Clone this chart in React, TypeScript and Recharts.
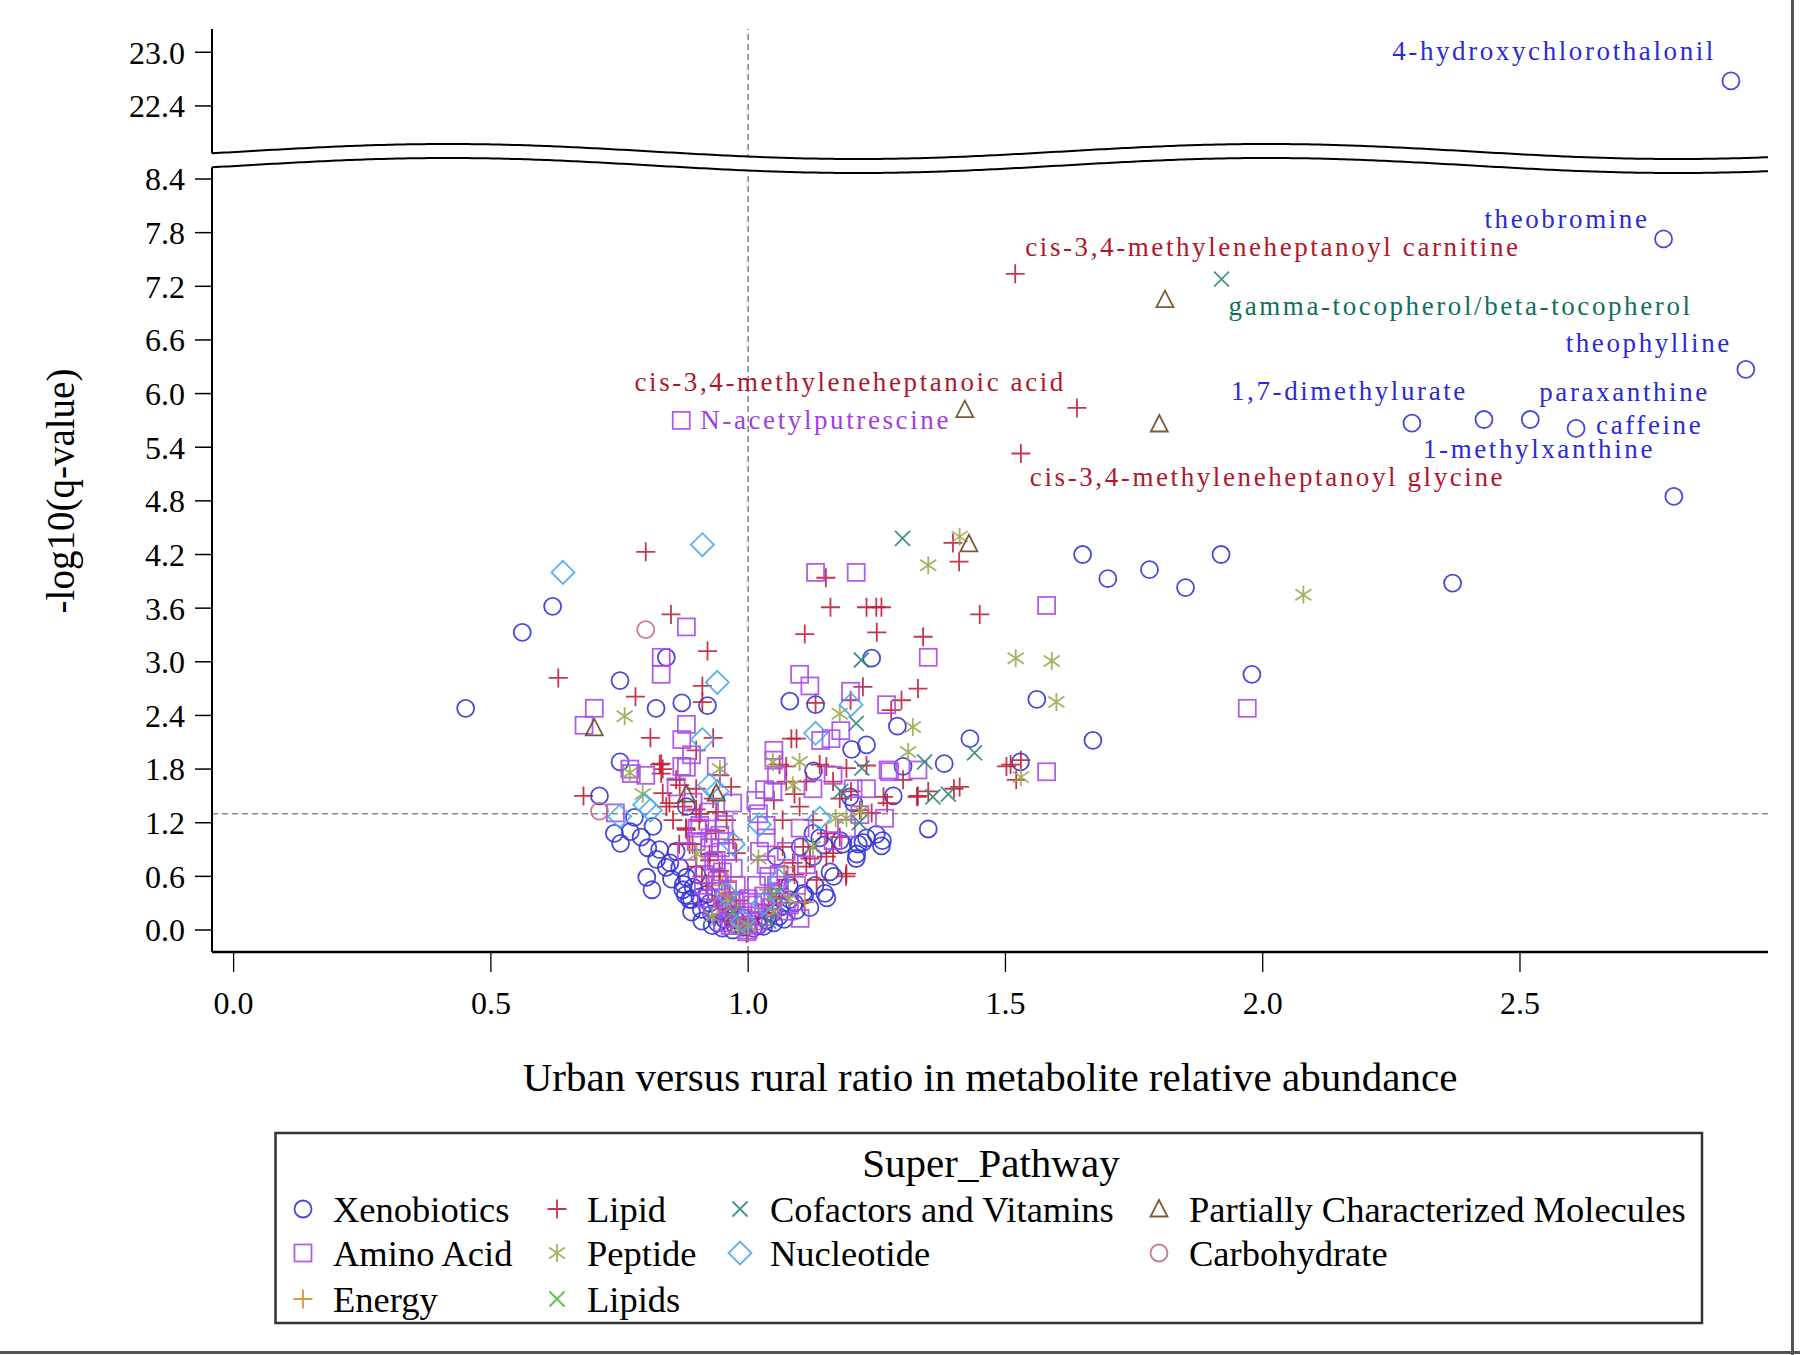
import React from "react";
import { ReferenceLine, Scatter, ScatterChart, XAxis, YAxis } from "recharts";

type Pt = [number, number];

const xTicks = [0, 0.5, 1, 1.5, 2, 2.5];
const yTicksLow = [0, 0.6, 1.2, 1.8, 2.4, 3.0, 3.6, 4.2, 4.8, 5.4, 6.0, 6.6, 7.2, 7.8, 8.4];
const yTicksHigh = [22.4, 23.0];
const xDomain = [-0.042, 2.982];
const yDomainLow = [-0.246, 8.635];
const yDomainHigh = [21.796, 23.26];
const breakAt = 15;
const qCutoff = 1.3; // -log10(0.05)
const ratioRef = 1.0;

const xenobiotics: Pt[] = [
  [2.91, 22.68],
  [2.779, 7.73], [2.939, 6.27], [2.29, 5.67], [2.43, 5.71], [2.52, 5.71], [2.609, 5.61], [2.799, 4.85],
  [1.65, 4.2], [1.699, 3.93], [1.78, 4.03], [1.85, 3.83], [1.919, 4.2], [2.369, 3.88], [1.979, 2.86],
  [1.561, 2.58], [1.67, 2.12], [1.529, 1.88], [1.431, 2.14], [1.381, 1.86], [1.35, 1.13],
  [1.24, 3.04], [1.081, 2.56], [1.131, 2.52], [1.29, 2.28], [1.23, 2.07], [1.201, 2.02], [1.127, 1.78],
  [1.301, 1.83], [1.282, 1.5],
  [0.62, 3.62], [0.561, 3.33], [0.451, 2.48], [0.841, 3.05], [0.751, 2.79], [0.821, 2.48], [0.871, 2.54],
  [0.921, 2.51], [0.751, 1.88], [0.711, 1.5], [0.88, 1.38],
  [0.74, 1.08], [0.771, 1.1], [0.779, 1.26], [0.752, 0.97], [0.792, 1.04], [0.805, 0.92], [0.828, 0.9],
  [0.822, 0.79], [0.848, 0.75], [0.841, 0.7], [0.803, 0.59], [0.813, 0.45], [0.851, 0.57], [0.874, 0.51],
  [0.878, 0.39], [0.89, 0.34], [0.909, 0.23], [0.929, 0.18], [0.954, 0.12], [0.974, 0.06], [0.815, 1.16],
  [0.867, 0.7], [0.88, 0.59], [0.893, 0.48], [0.906, 0.37], [0.925, 0.3], [0.945, 0.22], [0.964, 0.17],
  [0.977, 0.11], [0.873, 0.45], [0.886, 0.34], [0.94, 0.08], [0.99, 0.03], [0.96, 0.28], [0.92, 0.4],
  [0.9, 0.62], [0.86, 0.88],
  [1.035, 0.11], [1.048, 0.19], [1.064, 0.26], [1.081, 0.34], [1.094, 0.22], [1.107, 0.41], [1.126, 0.82],
  [1.149, 0.41], [1.159, 0.65], [1.179, 1.0], [1.211, 0.85], [1.214, 0.96], [1.23, 1.03], [1.249, 1.07],
  [1.259, 0.94], [1.055, 0.82], [1.101, 0.93], [1.126, 1.08], [1.139, 1.03], [1.198, 1.49], [1.205, 1.42],
  [1.261, 1.0], [1.223, 0.98], [1.184, 0.96], [1.21, 0.8], [1.166, 0.6], [1.153, 0.36], [1.147, 0.95],
  [1.11, 0.39], [1.02, 0.05], [1.06, 0.15], [1.08, 0.5], [1.12, 0.25], [1.01, 0.02],
  [0.93, 0.05], [0.95, 0.02], [0.97, 0.0], [1.03, 0.04], [1.05, 0.08], [1.07, 0.12], [0.91, 0.1],
  [0.89, 0.2], [1.09, 0.3], [1.13, 0.5],
];

const lipid: Pt[] = [
  [1.519, 7.34], [1.639, 5.84], [1.53, 5.33],
  [0.801, 4.23], [1.398, 4.33], [1.41, 4.12], [1.151, 3.94], [1.16, 3.61], [1.23, 3.61], [1.249, 3.61],
  [1.259, 3.61], [1.45, 3.53], [1.11, 3.31], [1.25, 3.33], [1.34, 3.28], [1.223, 2.72], [1.33, 2.7],
  [1.131, 2.54], [1.199, 2.57], [1.298, 2.57], [1.278, 2.46],
  [0.85, 3.53], [0.921, 3.12], [0.631, 2.82], [0.911, 2.73], [0.781, 2.61], [0.911, 2.55], [0.81, 2.15],
  [0.932, 2.15], [0.899, 2.01], [0.831, 1.86], [0.831, 1.75], [0.86, 1.68], [0.68, 1.5], [0.834, 1.53],
  [0.847, 1.42], [0.967, 1.6], [0.899, 1.35], [0.938, 1.32],
  [1.094, 2.14], [1.084, 2.14], [1.074, 1.83], [1.152, 1.83], [1.502, 1.83], [1.53, 1.9], [1.51, 1.85],
  [1.521, 1.68], [1.301, 1.68], [1.411, 1.6], [1.33, 1.5], [1.27, 1.42],
  [0.828, 1.85], [0.834, 1.8], [0.867, 1.62], [0.899, 1.58], [0.932, 1.47], [0.945, 1.73], [0.841, 1.38],
  [0.854, 1.23], [0.88, 1.12], [0.873, 1.38], [0.906, 1.3], [0.919, 1.08], [0.886, 0.96], [0.925, 0.78],
  [0.945, 0.6], [0.964, 0.41], [0.977, 0.26], [0.99, 0.07], [0.997, -0.04], [0.958, 1.23], [0.971, 1.01],
  [0.977, 0.86], [0.899, 0.71], [0.919, 0.52], [0.938, 0.34], [0.879, 1.14], [0.905, 1.22], [0.937, 1.11],
  [0.892, 0.96], [0.925, 0.85], [0.944, 0.66], [0.983, 0.33], [0.866, 0.96],
  [1.061, 1.85], [1.074, 1.66], [1.113, 1.66], [1.139, 1.85], [1.165, 1.66], [1.178, 1.47], [1.191, 1.81],
  [1.23, 1.84], [1.217, 1.34], [1.263, 1.49], [1.328, 1.49], [1.35, 1.55], [1.4, 1.58], [1.067, 1.23],
  [1.1, 1.38], [1.126, 1.23], [1.152, 1.08], [1.165, 0.86], [1.191, 0.63], [1.178, 1.04], [1.107, 0.93],
  [1.087, 0.75], [1.074, 0.56], [1.055, 0.37], [1.035, 0.19], [1.016, 0.06], [1.133, 0.56], [1.113, 0.71],
  [1.067, 0.93], [1.152, 0.82], [1.19, 0.6], [1.05, 1.45], [1.09, 1.52], [1.2, 1.55], [1.24, 1.31],
  [0.96, 0.1], [1.0, 0.12], [1.02, 0.2], [1.04, 0.28], [0.95, 0.3], [0.93, 0.45], [1.06, 0.46],
  [1.09, 0.62], [0.91, 0.6], [1.12, 0.8],
];

const aminoAcid: Pt[] = [
  [0.87, 5.7],
  [1.131, 4.0], [1.21, 4.0], [1.58, 3.63], [1.35, 3.05], [1.1, 2.86], [1.12, 2.73], [1.199, 2.67],
  [1.269, 2.52], [1.141, 2.12], [1.161, 2.14], [1.18, 2.23], [1.05, 2.01], [1.05, 1.9], [1.272, 1.79],
  [1.33, 1.79], [1.58, 1.77], [1.97, 2.48], [1.032, 1.57],
  [0.88, 3.39], [0.831, 3.05], [0.831, 2.86], [0.701, 2.48], [0.681, 2.29], [0.88, 2.3], [0.871, 2.13],
  [0.89, 1.96], [0.77, 1.8], [0.801, 1.73], [0.871, 1.83], [0.938, 1.83], [0.742, 1.31], [0.97, 1.42],
  [0.901, 1.14], [0.926, 1.03], [0.946, 0.92], [0.933, 0.77], [0.914, 0.62], [0.94, 0.55], [0.96, 0.44],
  [0.973, 0.33], [0.953, 1.18], [0.773, 1.75], [0.88, 1.82], [0.86, 1.6], [0.893, 1.43], [0.906, 1.17],
  [0.925, 1.32], [0.945, 1.06], [0.958, 0.88], [0.971, 0.69], [0.977, 0.5], [0.984, 0.32], [0.99, 0.13],
  [0.925, 0.92], [0.938, 0.78], [0.899, 0.99], [0.88, 0.88], [0.913, 0.5], [0.938, 0.43], [0.958, 0.28],
  [0.971, 0.13], [0.997, -0.02], [0.985, 0.05], [0.96, 0.18],
  [1.035, 1.17], [1.048, 1.55], [1.055, 1.73], [1.035, 1.03], [1.022, 0.88], [1.035, 0.73], [1.016, 0.5],
  [1.009, 0.28], [1.055, 0.5], [1.074, 0.88], [1.101, 1.14], [1.126, 1.58], [1.165, 1.73], [1.204, 1.58],
  [1.23, 1.58], [1.275, 1.77], [1.265, 1.25], [1.101, 0.13], [1.074, 0.21], [1.048, 0.32], [1.094, 0.5],
  [1.113, 0.73], [1.165, 1.0], [1.191, 1.14], [1.217, 1.29], [1.02, 0.1], [1.03, 0.38], [1.06, 0.62],
  [1.02, 1.3], [1.015, 1.45], [1.0, 0.0],
  [0.95, 0.08], [0.965, 0.05], [1.01, 0.06], [1.03, 0.15], [1.045, 0.25], [0.93, 0.25], [0.92, 0.35],
  [1.06, 0.4], [1.08, 0.28], [0.99, 0.2], [1.0, 0.35], [0.95, 0.65], [1.04, 0.6],
];

const energy: Pt[] = [[0.96, 0.55], [1.07, 0.7], [1.11, 0.31], [1.04, 0.45], [0.95, 0.5]];

const peptide: Pt[] = [
  [1.411, 4.4], [1.35, 4.08], [2.079, 3.75], [1.52, 3.04], [1.59, 3.01], [1.599, 2.55], [1.178, 2.42],
  [1.32, 2.27], [1.311, 1.99], [1.1, 1.88], [1.53, 1.71], [0.76, 2.39], [0.77, 1.76], [0.795, 1.52],
  [0.945, 1.8], [1.048, 1.88], [1.087, 1.62], [1.191, 1.25], [0.93, 0.15], [1.126, 0.93], [1.02, 0.8],
  [1.08, 0.35], [0.98, 0.02], [1.22, 1.33], [1.17, 1.25], [0.9, 0.85], [1.0, 0.05], [0.96, 0.35], [1.05, 0.2],
];

const lipids: Pt[] = [[1.05, 0.4], [0.97, 0.2]];

const cofactors: Pt[] = [
  [1.92, 7.28], [1.3, 4.38], [1.22, 3.02], [1.21, 2.31], [1.221, 1.81], [1.343, 1.88], [1.44, 1.98],
  [1.359, 1.49], [1.389, 1.52], [1.04, 0.1], [1.216, 1.2], [1.18, 1.55],
];

const nucleotide: Pt[] = [
  [0.64, 4.0], [0.911, 4.31], [0.94, 2.77], [0.911, 2.13], [1.2, 2.52], [1.131, 2.2], [0.799, 1.4],
  [0.75, 1.27], [0.81, 1.34], [0.925, 1.62], [1.022, 1.18], [1.139, 1.25], [0.971, 0.96], [0.958, 0.4],
  [0.94, 1.55], [1.06, 0.55], [0.99, 0.1], [1.03, 0.3],
];

const partial: Pt[] = [
  [1.81, 7.05], [1.421, 5.82], [1.799, 5.66], [1.429, 4.32], [0.701, 2.26], [0.88, 1.52], [0.938, 1.53],
];

const carbohydrate: Pt[] = [[0.801, 3.36], [0.711, 1.33], [0.95, 0.3]];

const annotations = [
  { name: "4-hydroxychlorothalonil", x: 2.91, y: 22.68 },
  { name: "theobromine", x: 2.779, y: 7.73 },
  { name: "cis-3,4-methyleneheptanoyl carnitine", x: 1.519, y: 7.34 },
  { name: "gamma-tocopherol/beta-tocopherol", x: 1.92, y: 7.28 },
  { name: "theophylline", x: 2.939, y: 6.27 },
  { name: "cis-3,4-methyleneheptanoic acid", x: 1.639, y: 5.84 },
  { name: "N-acetylputrescine", x: 0.87, y: 5.7 },
  { name: "1,7-dimethylurate", x: 2.29, y: 5.67 },
  { name: "paraxanthine", x: 2.52, y: 5.71 },
  { name: "caffeine", x: 2.609, y: 5.61 },
  { name: "1-methylxanthine", x: 2.43, y: 5.71 },
  { name: "cis-3,4-methyleneheptanoyl glycine", x: 1.53, y: 5.33 },
];

const BLUE_TXT = "#2a2ad6";
const RED_TXT = "#b0172d";
// label placement relative to its point (px)
const labelStyle: Record<string, { dx: number; dy: number; anchor: string; color: string }> = {
  "4-hydroxychlorothalonil": { dx: -15, dy: -21, anchor: "end", color: BLUE_TXT },
  theobromine: { dx: -14, dy: -11, anchor: "end", color: BLUE_TXT },
  "cis-3,4-methyleneheptanoyl carnitine": { dx: 10, dy: -18, anchor: "start", color: RED_TXT },
  "gamma-tocopherol/beta-tocopherol": { dx: 7, dy: 36, anchor: "start", color: "#0f6e5d" },
  theophylline: { dx: -14, dy: -17, anchor: "end", color: BLUE_TXT },
  "cis-3,4-methyleneheptanoic acid": { dx: -11, dy: -17, anchor: "end", color: RED_TXT },
  "N-acetylputrescine": { dx: 19, dy: 9, anchor: "start", color: "#a03ee0" },
  "1,7-dimethylurate": { dx: 56, dy: -23, anchor: "end", color: BLUE_TXT },
  paraxanthine: { dx: 9, dy: -19, anchor: "start", color: BLUE_TXT },
  caffeine: { dx: 20, dy: 6, anchor: "start", color: BLUE_TXT },
  "1-methylxanthine": { dx: -61, dy: 38, anchor: "start", color: BLUE_TXT },
  "cis-3,4-methyleneheptanoyl glycine": { dx: 9, dy: 33, anchor: "start", color: RED_TXT },
};

const series = [
  { name: "Xenobiotics", data: xenobiotics, kind: "circle", color: "#3535d8" },
  { name: "Lipid", data: lipid, kind: "plus", color: "#c0203a" },
  { name: "Energy", data: energy, kind: "plus", color: "#dd8a22" },
  { name: "Amino Acid", data: aminoAcid, kind: "square", color: "#a84ee8" },
  { name: "Peptide", data: peptide, kind: "asterisk", color: "#9aaa50" },
  { name: "Lipids", data: lipids, kind: "x", color: "#4cba3e" },
  { name: "Cofactors and Vitamins", data: cofactors, kind: "x", color: "#2f8a7a" },
  { name: "Nucleotide", data: nucleotide, kind: "diamond", color: "#4aa8f0" },
  { name: "Partially Characterized Molecules", data: partial, kind: "triangle", color: "#6a4a22" },
  { name: "Carbohydrate", data: carbohydrate, kind: "circle", color: "#c46a88" },
];

const legendOrder = [
  "Xenobiotics", "Amino Acid", "Energy",
  "Lipid", "Peptide", "Lipids",
  "Cofactors and Vitamins", "Nucleotide",
  "Partially Characterized Molecules", "Carbohydrate",
];
const legendCells = [[0, 0], [0, 1], [0, 2], [1, 0], [1, 1], [1, 2], [2, 0], [2, 1], [3, 0], [3, 1]];
const legendColX = [303, 557, 740, 1159];
const legendRowY = [1209, 1253, 1299];

const FONT = '"Liberation Serif", "Times New Roman", serif';

function Marker({ kind, color, cx, cy }: any) {
  const p = { fill: "none", stroke: color, strokeWidth: 1.8, strokeOpacity: 0.9 };
  if (kind === "circle") return <circle cx={cx} cy={cy} r={8.5} {...p} />;
  if (kind === "square") return <rect x={cx - 8.5} y={cy - 8.5} width={17} height={17} {...p} />;
  if (kind === "plus") return <path d={`M${cx - 9.5},${cy}H${cx + 9.5}M${cx},${cy - 9.5}V${cy + 9.5}`} {...p} />;
  if (kind === "x") return <path d={`M${cx - 7.5},${cy - 7.5}L${cx + 7.5},${cy + 7.5}M${cx - 7.5},${cy + 7.5}L${cx + 7.5},${cy - 7.5}`} {...p} />;
  if (kind === "asterisk")
    return (
      <path
        d={`M${cx},${cy - 9}V${cy + 9}M${cx - 8},${cy - 5.5}L${cx + 8},${cy + 5.5}M${cx - 8},${cy + 5.5}L${cx + 8},${cy - 5.5}`}
        {...p}
      />
    );
  if (kind === "diamond") return <path d={`M${cx},${cy - 11.5}L${cx + 11.5},${cy}L${cx},${cy + 11.5}L${cx - 11.5},${cy}Z`} {...p} />;
  return <path d={`M${cx},${cy - 9}L${cx + 8.5},${cy + 7.5}L${cx - 8.5},${cy + 7.5}Z`} {...p} />;
}

function AnnotationLabel(props: any) {
  const { cx, cy, payload } = props;
  const s = labelStyle[payload.name];
  return (
    <text x={cx + s.dx} y={cy + s.dy} textAnchor={s.anchor} fill={s.color} fontSize={27} letterSpacing={2.6} fontFamily={FONT}>
      {payload.name}
    </text>
  );
}

const toRows = (pts: Pt[]) => pts.map(([x, y]) => ({ x, y }));

const tickStyle = { fill: "#000", fontSize: 32, fontFamily: FONT };
const dash = { stroke: "#8a8a8a", strokeWidth: 1.6, strokeDasharray: "6 4" };

function wavePath(offset: number, x0: number, x1: number) {
  // decorative axis-break wave
  const pts: string[] = [];
  for (let x = x0; x <= x1; x += 4) {
    const y = 151.5 + offset - 7.5 * Math.cos((2 * Math.PI * (x - 448)) / 819);
    pts.push(`${x},${y.toFixed(2)}`);
  }
  return pts;
}

export default function App() {
  const upperFill = wavePath(0, 196, 1784);
  const lowerFill = wavePath(14, 196, 1784).reverse();
  return (
    <div style={{ position: "absolute", left: 0, top: 0, width: 1800, height: 1355, background: "#fff", fontFamily: FONT }}>
      <div style={{ position: "absolute", left: 0, top: 0 }}>
        <ScatterChart width={1800} height={160} margin={{ top: 29, right: 32, bottom: 0, left: 0 }}>
          <XAxis type="number" dataKey="x" domain={xDomain} allowDataOverflow hide />
          <XAxis xAxisId="t" orientation="top" type="number" domain={xDomain} allowDataOverflow height={0} tick={false} tickLine={false} axisLine={{ stroke: "#000", strokeWidth: 2 }} />
          <YAxis
            type="number"
            dataKey="y"
            domain={yDomainHigh}
            ticks={yTicksHigh}
            allowDataOverflow
            width={212}
            tickSize={17}
            tickMargin={10}
            tick={tickStyle}
            tickFormatter={(v: number) => v.toFixed(1)}
            axisLine={{ stroke: "#000", strokeWidth: 2 }}
            tickLine={{ stroke: "#000", strokeWidth: 1.5 }}
          />
          <YAxis yAxisId="r" orientation="right" type="number" domain={yDomainHigh} allowDataOverflow width={0} tick={false} tickLine={false} axisLine={{ stroke: "#000", strokeWidth: 2 }} />
          <ReferenceLine x={ratioRef} {...dash} />
          {series.map((s) => (
            <Scatter
              key={s.name}
              data={toRows(s.data.filter((d) => d[1] > breakAt))}
              isAnimationActive={false}
              shape={(p: any) => <Marker kind={s.kind} color={s.color} cx={p.cx} cy={p.cy} />}
            />
          ))}
          <Scatter data={annotations.filter((a) => a.y > breakAt)} isAnimationActive={false} shape={(p: any) => <AnnotationLabel {...p} />} />
        </ScatterChart>
      </div>
      <div style={{ position: "absolute", left: 0, top: 0 }}>
        <ScatterChart width={1800} height={1040} margin={{ top: 158, right: 32, bottom: 0, left: 0 }}>
          <XAxis
            type="number"
            dataKey="x"
            domain={xDomain}
            ticks={xTicks}
            allowDataOverflow
            height={88}
            tickSize={20}
            tickMargin={19}
            tick={tickStyle}
            tickFormatter={(v: number) => v.toFixed(1)}
            axisLine={{ stroke: "#000", strokeWidth: 2.5 }}
            tickLine={{ stroke: "#000", strokeWidth: 1.3 }}
          />
          <YAxis
            type="number"
            dataKey="y"
            domain={yDomainLow}
            ticks={yTicksLow}
            allowDataOverflow
            width={212}
            tickSize={17}
            tickMargin={10}
            tick={tickStyle}
            tickFormatter={(v: number) => v.toFixed(1)}
            axisLine={{ stroke: "#000", strokeWidth: 2 }}
            tickLine={{ stroke: "#000", strokeWidth: 1.5 }}
          />
          <YAxis yAxisId="r" orientation="right" type="number" domain={yDomainLow} allowDataOverflow width={0} tick={false} tickLine={false} axisLine={{ stroke: "#000", strokeWidth: 2 }} />
          <ReferenceLine x={ratioRef} {...dash} />
          <ReferenceLine y={qCutoff} {...dash} />
          {series.map((s) => (
            <Scatter
              key={s.name}
              data={toRows(s.data.filter((d) => d[1] <= breakAt))}
              isAnimationActive={false}
              shape={(p: any) => <Marker kind={s.kind} color={s.color} cx={p.cx} cy={p.cy} />}
            />
          ))}
          <Scatter data={annotations.filter((a) => a.y <= breakAt)} isAnimationActive={false} shape={(p: any) => <AnnotationLabel {...p} />} />
        </ScatterChart>
      </div>
      <svg width={1800} height={1355} style={{ position: "absolute", left: 0, top: 0, pointerEvents: "none" }}>
        <polygon points={[...upperFill, ...lowerFill].join(" ")} fill="#fff" />
        <polyline points={wavePath(0, 212, 1768).join(" ")} fill="none" stroke="#000" strokeWidth={2} />
        <polyline points={wavePath(14, 212, 1768).join(" ")} fill="none" stroke="#000" strokeWidth={2} />
        <text x={60} y={491} transform="rotate(-90 60 491)" textAnchor="middle" dominantBaseline="central" fontSize={39} fontFamily={FONT}>
          -log10(q-value)
        </text>
        <text x={990} y={1077} textAnchor="middle" dominantBaseline="central" fontSize={41} fontFamily={FONT}>
          Urban versus rural ratio in metabolite relative abundance
        </text>
        <rect x={275.5} y={1133} width={1426.5} height={190} fill="none" stroke="#333" strokeWidth={2.5} />
        <text x={991} y={1163} textAnchor="middle" dominantBaseline="central" fontSize={41} fontFamily={FONT}>
          Super_Pathway
        </text>
        {legendOrder.map((name, i) => {
          const s = series.find((d) => d.name === name)!;
          const [c, r] = legendCells[i];
          const x = legendColX[c];
          const y = legendRowY[r];
          return (
            <g key={name}>
              <Marker kind={s.kind} color={s.color} cx={x} cy={y} />
              <text x={x + 30} y={y} dominantBaseline="central" fontSize={36.5} fontFamily={FONT}>
                {name}
              </text>
            </g>
          );
        })}
        <line x1={1792.5} y1={0} x2={1792.5} y2={1355} stroke="#555" strokeWidth={3} />
        <line x1={0} y1={1352.5} x2={1800} y2={1352.5} stroke="#555" strokeWidth={3} />
      </svg>
    </div>
  );
}
